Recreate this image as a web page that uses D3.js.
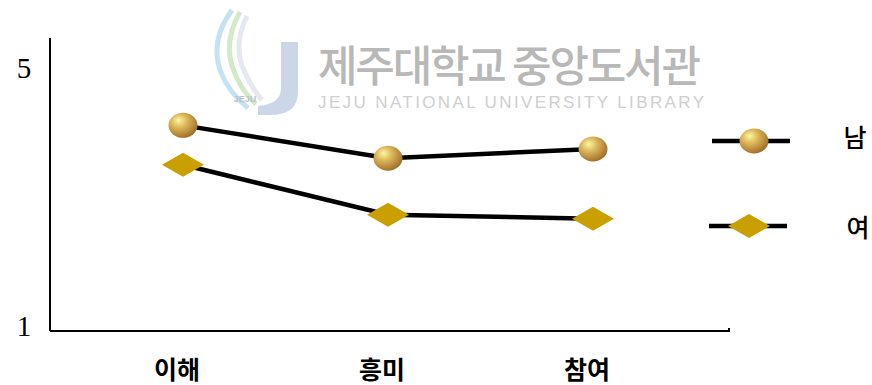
<!DOCTYPE html>
<html><head><meta charset="utf-8">
<script src="https://cdn.jsdelivr.net/npm/d3@7"></script>
<style>body{margin:0;background:#fff}svg{display:block}</style>
</head><body>
<svg id="c" width="872" height="385"></svg>
<script>
const categories = ["이해", "흥미", "참여"];
const maleValues = [4.13, 3.63, 3.77];
const femaleValues = [3.53, 2.77, 2.71];
const seriesNames = ["남", "여"];
const yTickLabels = [5, 1];

const svg = d3.select("#c");
const defs = svg.append("defs");
const g = defs.append("radialGradient").attr("id","ball").attr("cx","38%").attr("cy","35%").attr("r","70%").attr("fx","35%").attr("fy","30%");
g.append("stop").attr("offset","0%").attr("stop-color","#fbf7a0");
g.append("stop").attr("offset","40%").attr("stop-color","#dcb65a");
g.append("stop").attr("offset","100%").attr("stop-color","#9c6a28");

// watermark
const wm = svg.append("g").attr("opacity",0.6);
wm.append("path").attr("d","M281,42 L298,42 L298,92 Q298,115 270,115 L258,115 L258,106 Q281,104 281,88 Z").attr("fill","#a9bddc");
wm.append("path").attr("d","M232,10 Q210,40 220,70 Q228,92 248,108").attr("fill","none").attr("stroke","#9dd0e8").attr("stroke-width",5);
wm.append("path").attr("d","M240,12 Q224,40 232,66 Q240,90 256,104").attr("fill","none").attr("stroke","#b9dca8").attr("stroke-width",5);
wm.append("path").attr("d","M247,16 Q234,42 242,66 Q250,86 262,100").attr("fill","none").attr("stroke","#d4d9e2").attr("stroke-width",5);
wm.append("text").attr("x",245).attr("y",102).attr("font-family","Liberation Sans").attr("font-size",9).attr("font-weight","bold").attr("fill","#8a9ab0").attr("text-anchor","middle").text("JEJU");
wm.append("text").attr("x",318).attr("y",82).attr("font-family","Noto Sans CJK KR").attr("font-weight","500").attr("font-size",43).attr("fill","#8a8a8a").attr("textLength",383).text("제주대학교 중앙도서관");
wm.append("text").attr("x",318).attr("y",108).attr("font-family","Liberation Sans").attr("font-size",17).attr("fill","#b0b0b0").attr("textLength",386).text("JEJU NATIONAL UNIVERSITY  LIBRARY");

const x = d3.scalePoint().domain(categories).range([183, 593]);
const y = d3.scaleLinear().domain([1, 5.46]).range([331, 38]);

// axes
svg.append("line").attr("x1",50).attr("x2",50).attr("y1",y(5.46)).attr("y2",y(1)).attr("stroke","#000").attr("stroke-width",2);
svg.append("path").attr("d",`M50,${y(1)}H729V${y(1)-3}`).attr("fill","none").attr("stroke","#000").attr("stroke-width",2);

svg.selectAll(".yt").data(yTickLabels).join("text")
  .attr("x",24).attr("y",d=> d===5 ? y(5)+10 : y(1)+5)
  .attr("text-anchor","middle").attr("font-family","Liberation Serif").attr("font-size",29).attr("fill","#000")
  .text(d=>d);

svg.selectAll(".xt").data(categories).join("text")
  .attr("x",d=>x(d)-6).attr("y",379).attr("text-anchor","middle")
  .attr("font-family","Noto Sans CJK KR").attr("font-weight","bold").attr("font-size",25).attr("fill","#000")
  .text(d=>d);

const line = d3.line().x((d,i)=>x(categories[i])).y(d=>y(d));
svg.append("path").datum(maleValues).attr("d",line).attr("fill","none").attr("stroke","#000").attr("stroke-width",4.5);
svg.append("path").datum(femaleValues).attr("d",line).attr("fill","none").attr("stroke","#000").attr("stroke-width",4.5);

function ball(sel, cx, cy){ sel.append("ellipse").attr("cx",cx).attr("cy",cy).attr("rx",14.5).attr("ry",12.5).attr("fill","url(#ball)"); }
function diamond(sel, cx, cy){ sel.append("path").attr("d",`M${cx-21},${cy}L${cx},${cy-12}L${cx+21},${cy}L${cx},${cy+12}Z`).attr("fill","#c9a000"); }

maleValues.forEach((v,i)=>ball(svg, x(categories[i]), y(v)));
femaleValues.forEach((v,i)=>diamond(svg, x(categories[i]), y(v)));

// legend
const leg = svg.append("g");
leg.append("line").attr("x1",712).attr("x2",790).attr("y1",141).attr("y2",141).attr("stroke","#000").attr("stroke-width",4.5);
ball(leg, 754, 141);
leg.append("line").attr("x1",709).attr("x2",787).attr("y1",226).attr("y2",226).attr("stroke","#000").attr("stroke-width",4.5);
diamond(leg, 749, 226);
leg.selectAll("text").data(seriesNames).join("text")
  .attr("x",(d,i)=> i===0 ? 855 : 858).attr("y",(d,i)=> i===0 ? 147 : 237)
  .attr("text-anchor","middle").attr("font-family","Noto Sans CJK KR").attr("font-weight","500").attr("font-size",25).attr("fill","#000")
  .text(d=>d);
</script>
</body></html>
